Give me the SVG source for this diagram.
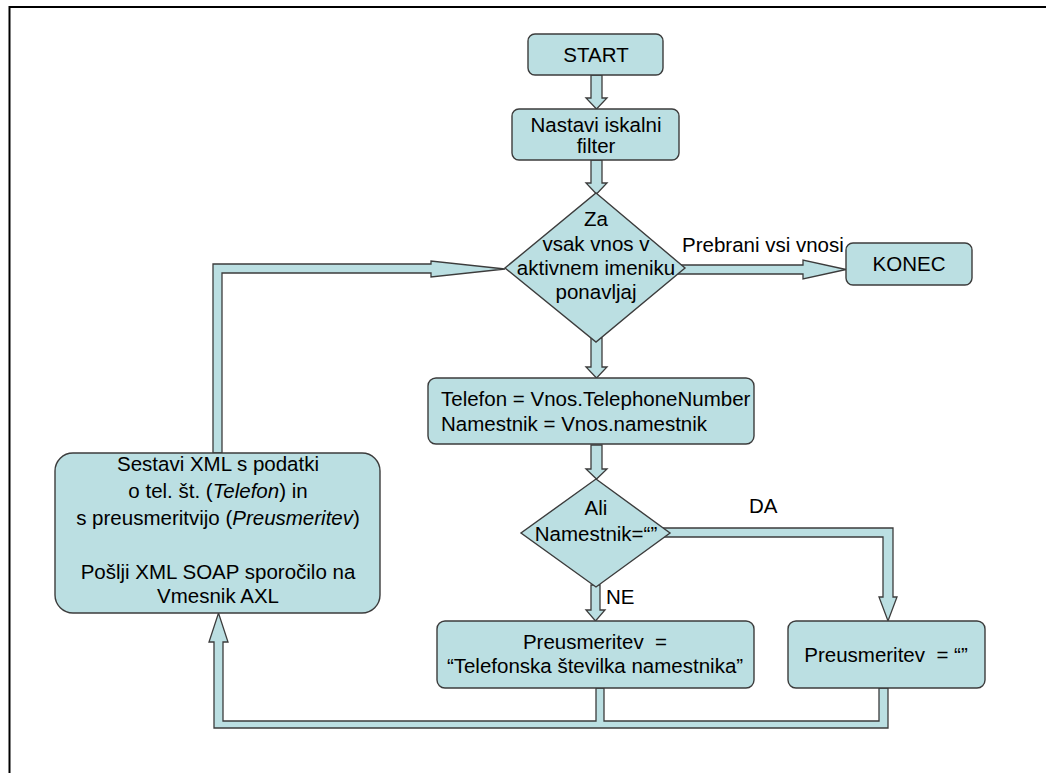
<svg xmlns="http://www.w3.org/2000/svg" width="1046" height="773" viewBox="0 0 1046 773">
  <style>
    .box { fill: #bbdfe2; stroke: #3c3c3c; stroke-width: 1.4; }
    .flow { fill: #bbdfe2; stroke: #3c3c3c; stroke-width: 1.3; stroke-linejoin: miter; }
    text { font-family: "Liberation Sans", Arial, sans-serif; font-size: 20.5px; fill: #000; white-space: pre; }
    .c { text-anchor: middle; }
    .i { font-style: italic; }
  </style>

  <rect width="1046" height="773" fill="#ffffff"/>
  <!-- page frame: top and left edges -->
  <path d="M9.5,773 V7 H1046" fill="none" stroke="#000" stroke-width="2"/>

  <!-- connectors (block arrows) -->
  <g id="connectors">
    <polygon class="flow" points="591,75 602,75 602,98 607,98 596.5,109 586,98 591,98"/>
    <polygon class="flow" points="591,160 602,160 602,183 607,183 596.5,194 586,183 591,183"/>
    <polygon class="flow" points="591,338 602,338 602,367 607,367 596.5,378 586,367 591,367"/>
    <polygon class="flow" points="591,445 602,445 602,469 607,469 596.5,479 586,469 591,469"/>
    <polygon class="flow" points="591,585 600,585 600,610 605,610 595.5,621 586,610 591,610"/>
    <polygon class="flow" points="678,265 803,265 803,260 846,269.5 803,279 803,274 678,274"/>
    <polygon class="flow" points="662,528 893,528 893,597 897,597 888,621 879,597 883,597 883,537 662,537"/>
    <polygon class="flow" points="213,453 213,264 431,264 431,261 505,269 431,277 431,273 222,273 222,453"/>
    <polygon class="flow" points="596,688 596,721 223,721 223,642 228,642 218.5,613 209,642 214,642 214,728 888,728 888,688 879,688 879,721 604,721 604,688"/>
    <text x="682" y="252">Prebrani vsi vnosi</text>
    <text x="749" y="513">DA</text>
    <text x="606" y="604">NE</text>
  </g>

  <g id="start">
    <rect class="box" x="528" y="34" width="135" height="41" rx="7"/>
    <text class="c" x="596" y="62">START</text>
  </g>

  <g id="filter">
    <rect class="box" x="512" y="109" width="167" height="51" rx="7"/>
    <text class="c" x="596" y="132">Nastavi iskalni</text>
    <text class="c" x="596" y="153">filter</text>
  </g>

  <g id="loop">
    <polygon class="box" points="596,193 685,268 596,342 505,268"/>
    <text class="c" x="596" y="226">Za</text>
    <text class="c" x="596" y="251">vsak vnos v</text>
    <text class="c" x="596" y="275">aktivnem imeniku</text>
    <text class="c" x="596" y="299">ponavljaj</text>
  </g>

  <g id="konec">
    <rect class="box" x="846" y="243" width="126" height="42" rx="7"/>
    <text class="c" x="909" y="271">KONEC</text>
  </g>

  <g id="assign">
    <rect class="box" x="428" y="378" width="326" height="66" rx="8"/>
    <text x="441" y="406">Telefon = Vnos.TelephoneNumber</text>
    <text x="441" y="431">Namestnik = Vnos.namestnik</text>
  </g>

  <g id="check">
    <polygon class="box" points="596,479 670,533 596,587 521,533"/>
    <text class="c" x="596" y="515">Ali</text>
    <text class="c" x="596" y="541">Namestnik=“”</text>
  </g>

  <g id="forward">
    <rect class="box" x="437" y="621" width="317" height="67" rx="8"/>
    <text class="c" x="595" y="649" xml:space="preserve">Preusmeritev  =</text>
    <text class="c" x="595" y="673">“Telefonska številka namestnika”</text>
  </g>

  <g id="empty">
    <rect class="box" x="788" y="621" width="197" height="67" rx="8"/>
    <text class="c" x="886" y="662" xml:space="preserve">Preusmeritev  = “”</text>
  </g>

  <g id="send">
    <rect class="box" x="55" y="453" width="325" height="160" rx="18"/>
    <text class="c" x="218" y="471">Sestavi XML s podatki</text>
    <text class="c" x="218" y="498">o tel. št. (<tspan class="i">Telefon</tspan>) in</text>
    <text class="c" x="218" y="525">s preusmeritvijo (<tspan class="i">Preusmeritev</tspan>)</text>
    <text class="c" x="218" y="579">Pošlji XML SOAP sporočilo na</text>
    <text class="c" x="218" y="603">Vmesnik AXL</text>
  </g>
</svg>
